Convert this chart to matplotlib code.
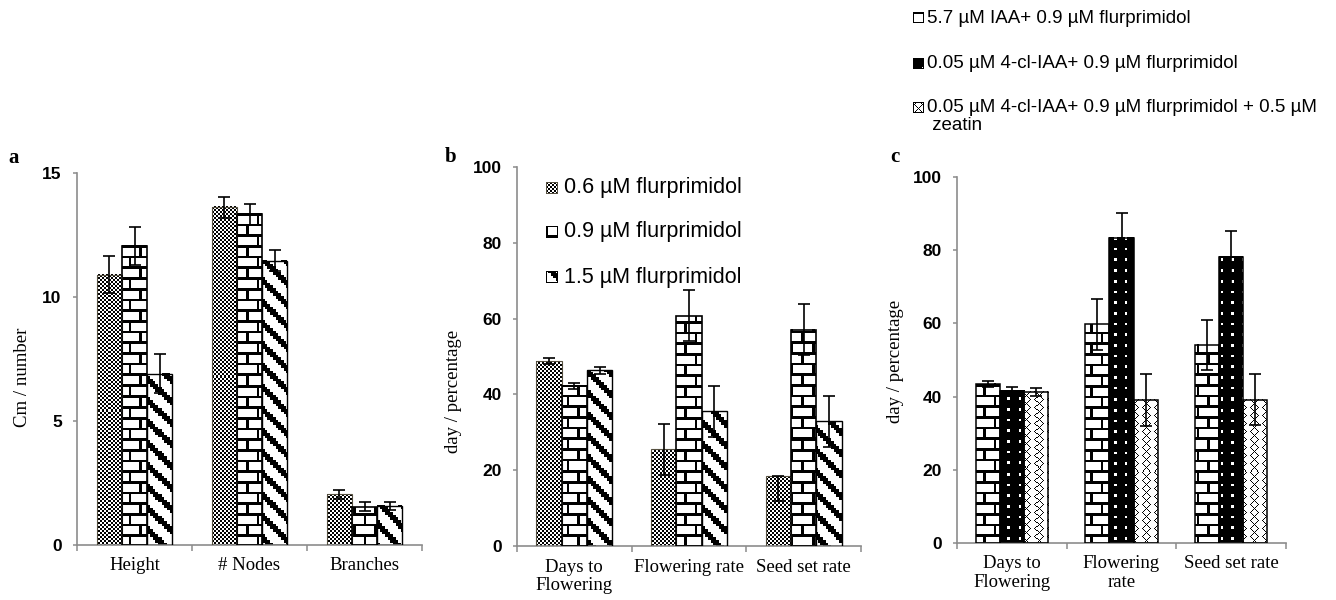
import numpy as np
import matplotlib
matplotlib.use('Agg')
import matplotlib.pyplot as plt

W, H = 1336, 600

# ---------------- data ----------------
a_categories = ['Height', '# Nodes', 'Branches']
b_series = ['0.6 µM flurprimidol', '0.9 µM flurprimidol', '1.5 µM flurprimidol']
a_values = [[10.9, 13.62, 2.05], [12.07, 13.34, 1.54], [6.91, 11.46, 1.57]]
a_errors = [[0.75, 0.43, 0.18], [0.77, 0.43, 0.18], [0.78, 0.43, 0.15]]
a_yticks = [0, 5, 10, 15]

b_categories = ['Days to\nFlowering', 'Flowering rate', 'Seed set rate']
b_values = [[48.8, 25.5, 18.5], [42.2, 60.8, 57.1], [46.4, 35.5, 32.9]]
b_err_low = [[0.8, 6.7, 6.6], [0.9, 6.7, 6.8], [0.9, 6.8, 6.7]]
b_err_high = [[0.8, 6.7, 0.0], [0.9, 6.7, 6.8], [0.9, 6.8, 6.7]]
bc_yticks = [0, 20, 40, 60, 80, 100]

c_categories = ['Days to\nFlowering', 'Flowering\nrate', 'Seed set rate']
c_series = ['5.7 µM IAA+ 0.9 µM flurprimidol',
            '0.05 µM 4-cl-IAA+ 0.9 µM flurprimidol',
            '0.05 µM 4-cl-IAA+ 0.9 µM flurprimidol + 0.5 µM\n zeatin']
c_values = [[43.4, 59.7, 54.1], [41.5, 83.2, 78.1], [41.3, 39.2, 39.2]]
c_errors = [[0.9, 7.1, 6.9], [1.0, 7.1, 7.2], [1.0, 7.1, 6.9]]

# ---------------- patterns ----------------
S = 2.67

def _uv(X, Y):
    return np.floor(X / S).astype(int), np.floor(Y / S).astype(int)

def pat_checker(X, Y):
    return ((X // 2 + Y // 2) % 2) == 0

def pat_brick(X, Y):
    u, v = _uv(X, Y)
    u %= 8; v %= 8
    return (v % 4 == 0) | ((v < 4) & (u == 0)) | ((v > 4) & (u == 4))

def pat_diag(X, Y):
    u, v = _uv(X, Y)
    return ((u - v) % 8) < 3

def pat_dots(X, Y):
    u, v = _uv(X, Y)
    return ~((u % 4 == 1) & (v % 4 == 1))

def pat_zigzag(X, Y):
    tri = np.abs((Y % 16) - 8).astype(float)
    xx = (X % 12).astype(float)
    l1 = np.abs(xx - (2 + tri)) < 0.8
    l2 = np.abs(xx - (10 - tri)) < 0.8
    return l1 | l2

def texture(pattern, x0, y0top, w, h):
    X, Y = np.meshgrid(np.arange(x0, x0 + w), np.arange(y0top, y0top + h))
    m = pattern(X, Y)
    img = np.where(m, 0.0, 1.0)
    return np.dstack([img, img, img])

SPINE = '#8c8c8c'
SANS = ['Liberation Sans', 'DejaVu Sans']
SERIF = ['Liberation Serif', 'DejaVu Serif']

fig = plt.figure(figsize=(W / 100, H / 100), dpi=100)

def make_axes(left, right, top, bottom, ymax, yticks, cats):
    ax = fig.add_axes([left / W, 1 - bottom / H, (right - left) / W, (bottom - top) / H])
    ax.set_xlim(-0.5, len(cats) - 0.5)
    ax.set_ylim(0, ymax)
    ax.set_autoscale_on(False)
    for s in ['top', 'right']:
        ax.spines[s].set_visible(False)
    for s in ['left', 'bottom']:
        ax.spines[s].set_color(SPINE)
        ax.spines[s].set_linewidth(1.2)
    ax.set_yticks(yticks)
    ax.set_yticklabels([str(t) for t in yticks], fontfamily=SANS, fontweight='bold', fontsize=12.5)
    ax.tick_params(axis='y', direction='out', length=3, width=1.1, color=SPINE, pad=8)
    ax.set_xticks(np.arange(len(cats) + 1) - 0.5)
    ax.set_xticklabels([])
    ax.tick_params(axis='x', which='major', direction='out', length=4, width=1.1, color=SPINE)
    ax.set_xticks(np.arange(len(cats)), minor=True)
    ax.set_xticklabels(cats, minor=True, fontfamily=SERIF, fontsize=13.5, linespacing=1.15)
    ax.tick_params(axis='x', which='minor', length=0, pad=9)
    return ax

def textured_bars(ax, xs, vals, width, pattern, ec, lw):
    bars = ax.bar(xs, vals, width, facecolor='none', edgecolor=ec, linewidth=lw, zorder=3)
    inv = ax.transData.inverted()
    for r in bars:
        x0, y0 = r.get_x(), r.get_y()
        x1, y1 = x0 + r.get_width(), y0 + r.get_height()
        (p0x, p0y), (p1x, p1y) = ax.transData.transform([(x0, y0), (x1, y1)])
        ix0, ix1 = int(round(p0x)), int(round(p1x))
        iy0, iy1 = int(round(p0y)), int(round(p1y))
        w, h = ix1 - ix0, iy1 - iy0
        if w <= 0 or h <= 0:
            continue
        img = texture(pattern, ix0, H - iy1, w, h)
        (d0x, d0y), (d1x, d1y) = inv.transform([(ix0, iy0), (ix1, iy1)])
        ax.imshow(img, extent=(d0x, d1x, d0y, d1y), origin='upper',
                  interpolation='nearest', aspect='auto', zorder=2)
    return bars

BW = 0.22
offsets = [-BW, 0, BW]

# ---------- panel a ----------
axa = make_axes(77, 422, 173, 545, 15, a_yticks, a_categories)
pats_ab = [pat_checker, pat_brick, pat_diag]
ecs_ab = ['#565040', 'black', 'black']
lws_ab = [0.8, 1.2, 1.0]
xa = np.arange(len(a_categories))
for i in range(3):
    textured_bars(axa, xa + offsets[i], a_values[i], BW, pats_ab[i], ecs_ab[i], lws_ab[i])
    axa.errorbar(xa + offsets[i], a_values[i], yerr=a_errors[i], fmt='none', ecolor='black',
                 elinewidth=1.2, capsize=4.3, capthick=1.2, zorder=4)

# ---------- panel b ----------
axb = make_axes(517, 861, 167, 546, 100, bc_yticks, b_categories)
xb = np.arange(len(b_categories))
for i in range(3):
    textured_bars(axb, xb + offsets[i], b_values[i], BW, pats_ab[i], ecs_ab[i], lws_ab[i])
    axb.errorbar(xb + offsets[i], b_values[i], yerr=[b_err_low[i], b_err_high[i]], fmt='none',
                 ecolor='black', elinewidth=1.2, capsize=4.3, capthick=1.2, zorder=4)

# ---------- panel c ----------
axc = make_axes(957, 1286, 177, 543, 100, bc_yticks, c_categories)
xc = np.arange(len(c_categories))
pats_c = [pat_brick, pat_dots, pat_zigzag]
for i in range(3):
    textured_bars(axc, xc + offsets[i], c_values[i], BW, pats_c[i], 'black', 1.1)
    axc.errorbar(xc + offsets[i], c_values[i], yerr=c_errors[i], fmt='none', ecolor='black',
                 elinewidth=1.2, capsize=4.3, capthick=1.2, zorder=4)

# ---------- labels ----------
def ftext(x, y, s, **kw):
    fig.text(x / W, 1 - y / H, s, **kw)

ftext(23, 377, 'Cm / number', rotation=90, ha='center', va='center', fontfamily=SERIF, fontsize=13.5)
ftext(453, 391, 'day / percentage', rotation=90, ha='center', va='center', fontfamily=SERIF, fontsize=13.5)
ftext(896, 361, 'day / percentage', rotation=90, ha='center', va='center', fontfamily=SERIF, fontsize=13.5)

ftext(14, 158, 'a', ha='center', va='center', fontfamily=SERIF, fontweight='bold', fontsize=15)
ftext(451, 157, 'b', ha='center', va='center', fontfamily=SERIF, fontweight='bold', fontsize=15)
ftext(895, 157, 'c', ha='center', va='center', fontfamily=SERIF, fontweight='bold', fontsize=15)

# ---------- legends ----------
def legend_patch(x, yc, pattern, ec, size=12):
    top = int(round(yc - size / 2))
    img = texture(pattern, x, top, size, size)
    ecv = np.array(matplotlib.colors.to_rgb(ec))
    img[0, :, :] = ecv; img[-1, :, :] = ecv; img[:, 0, :] = ecv; img[:, -1, :] = ecv
    fig.figimage(img, xo=x, yo=H - top - size, origin='upper', zorder=5)

b_leg_y = [188, 232, 277]
for i in range(3):
    legend_patch(546, b_leg_y[i], pats_ab[i], ecs_ab[i])
    ftext(564, b_leg_y[i], b_series[i], ha='left', va='center', fontfamily=SANS, fontsize=15.5)

c_leg_y = [18, 63, 107]
for i in range(3):
    legend_patch(913, c_leg_y[i], pats_c[i], 'black', size=11)
    ftext(927, c_leg_y[i] - 8, c_series[i], ha='left', va='top', fontfamily=SANS, fontsize=13.5,
          linespacing=1.05)

fig.savefig('out.png', dpi=100)
